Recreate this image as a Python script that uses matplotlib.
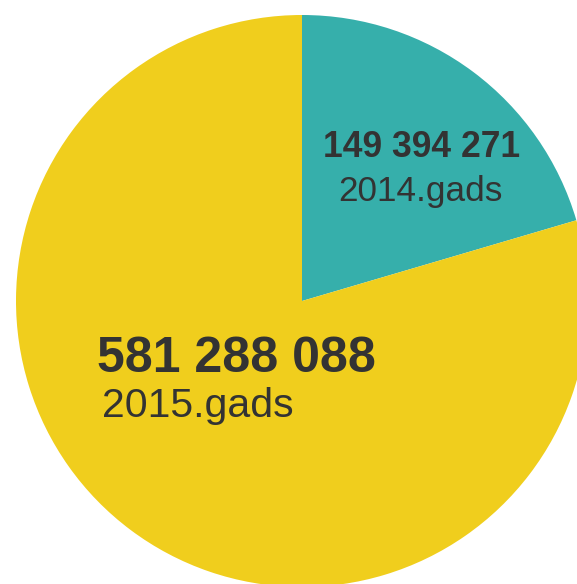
import matplotlib.pyplot as plt

plt.rcParams['font.family'] = ['Liberation Sans', 'DejaVu Sans']

years = ['2014.gads', '2015.gads']
values = [149394271, 581288088]
colors = ['#36afab', '#f0ce1d']

W, H = 577, 584
fig = plt.figure(figsize=(W / 100, H / 100), dpi=100)
ax = fig.add_axes([0, 0, 1, 1])

ax.pie(values, colors=colors, startangle=90, counterclock=False,
       center=(302, H - 301), radius=286, frame=True,
       wedgeprops=dict(linewidth=0))
ax.set_xlim(0, W)
ax.set_ylim(0, H)
ax.set_aspect('equal')
ax.axis('off')


def fmt(v):
    return f'{v:,}'.replace(',', ' ')


# label positions (pixel coords from top-left): number, year
labels = [
    ((323, 157, 25.6), (338, 201, 25.3)),
    ((97, 372, 36), (102, 417, 29.5)),
]
for (num, yr), v, name in zip(labels, values, years):
    ax.text(num[0], H - num[1], fmt(v), fontsize=num[2], fontweight='bold',
            color='#333333', ha='left', va='baseline')
    ax.text(yr[0], H - yr[1], name, fontsize=yr[2],
            color='#333333', ha='left', va='baseline')

fig.savefig('out.png', dpi=100)
